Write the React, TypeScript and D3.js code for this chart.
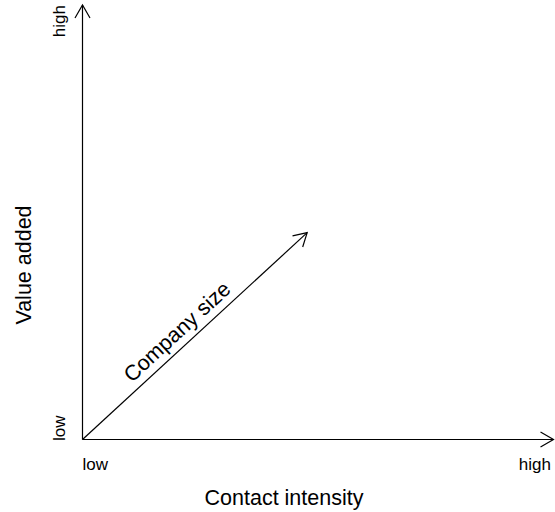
import React from "react";
import * as d3 from "d3";

const axisEnds = [0, 1];
const xTickLabels = ["low", "high"];
const yTickLabels = ["low", "high"];
const diagonalEnd = [0.477, 0.476];
const xTitle = "Contact intensity";
const yTitle = "Value added";
const diagLabel = "Company size";

const W = 555, H = 512;
const FONT = "'Liberation Sans', Arial, sans-serif";

function arrowHead(x1: number, y1: number, x2: number, y2: number, len = 15, ang = Math.PI / 6) {
  const a = Math.atan2(y2 - y1, x2 - x1);
  const p1 = [x2 - len * Math.cos(a - ang), y2 - len * Math.sin(a - ang)];
  const p2 = [x2 - len * Math.cos(a + ang), y2 - len * Math.sin(a + ang)];
  return `M${p1[0]},${p1[1]}L${x2},${y2}L${p2[0]},${p2[1]}`;
}

export default function App() {
  const x = d3.scaleLinear().domain(axisEnds).range([82.5, 553.5]);
  const y = d3.scaleLinear().domain(axisEnds).range([439.5, 5]);
  const ox = x(0), oy = y(0);
  const xe = x(1), ye = y(1);
  const dx = x(diagonalEnd[0]), dy = y(diagonalEnd[1]);
  const angle = (Math.atan2(oy - dy, dx - ox) * 180) / Math.PI;
  return (
    <svg width={W} height={H} style={{ position: "absolute", left: 0, top: 0 }}>
      <rect width={W} height={H} fill="#fff" />
      <g stroke="#000" strokeWidth={1.2} fill="none">
        <line x1={ox} y1={oy} x2={xe} y2={oy} />
        <path d={arrowHead(ox, oy, xe, oy)} />
        <line x1={ox} y1={oy} x2={ox} y2={ye} />
        <path d={arrowHead(ox, oy, ox, ye)} />
        <line x1={ox} y1={oy} x2={dx} y2={dy} />
        <path d={arrowHead(ox, oy, dx, dy)} />
      </g>
      <g fontFamily={FONT} fill="#000">
        <text x={x(0)} y={470} fontSize={17} textAnchor="start">{xTickLabels[0]}</text>
        <text x={x(1) - 2.5} y={470} fontSize={17} textAnchor="end">{xTickLabels[1]}</text>
        <text transform={`translate(65,${y(0) + 1.5}) rotate(-90)`} fontSize={17} textAnchor="start">{yTickLabels[0]}</text>
        <text transform={`translate(65,${y(1)}) rotate(-90)`} fontSize={17} textAnchor="end">{yTickLabels[1]}</text>
        <text x={284} y={505} fontSize={21.5} textAnchor="middle">{xTitle}</text>
        <text transform={`translate(31,265) rotate(-90)`} fontSize={21.5} textAnchor="middle">{yTitle}</text>
        <text transform={`translate(182,337) rotate(${-angle})`} fontSize={21.5} textAnchor="middle">{diagLabel}</text>
      </g>
    </svg>
  );
}
